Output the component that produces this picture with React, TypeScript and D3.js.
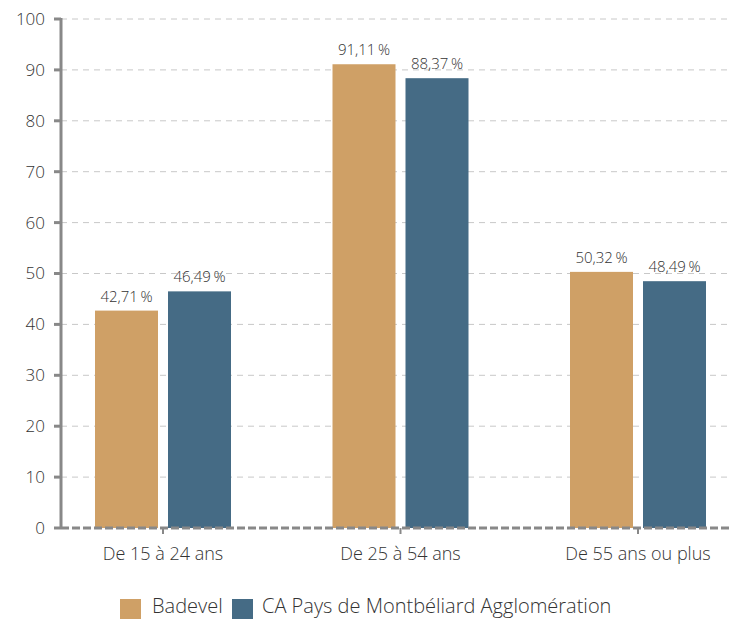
import React from "react";
import * as d3 from "d3";

const categories = ["De 15 à 24 ans", "De 25 à 54 ans", "De 55 ans ou plus"];
const seriesNames = ["Badevel", "CA Pays de Montbéliard Agglomération"];
const badevel = [42.71, 91.11, 50.32];
const caPays = [46.49, 88.37, 48.49];
const yTicks = [0, 10, 20, 30, 40, 50, 60, 70, 80, 90, 100];
const colors = ["#CFA066", "#456B85"];

const fmt = (v: number) => v.toFixed(2).replace(".", ",") + "\u2009%";

export default function App() {
  const W = 731, H = 619;
  const x0 = 61, x1 = 731, yTop = 19, yBot = 528;
  const y = d3.scaleLinear().domain([0, 100]).range([yBot, yTop]);
  const x = d3.scaleBand<string>().domain(categories).range([44.25, 756.75]);
  const barW = 63, gap = 10;
  const font = "'Open Sans', sans-serif";
  const fw = 300;
  const series = [badevel, caPays];
  return (
    <svg width={W} height={H} style={{ position: "absolute", left: 0, top: 0 }}>
      <rect width={W} height={H} fill="#fff" />
      {yTicks.map((t) => (
        <g key={t}>
          {t > 0 && (
            <line x1={x0} x2={x1} y1={y(t)} y2={y(t)} stroke="#c8c8c8" strokeDasharray="6,5" strokeWidth={1} />
          )}
          <line x1={54} x2={x0} y1={y(t)} y2={y(t)} stroke="#888" strokeWidth={3} />
          <text x={45} y={y(t)} dy="0.35em" textAnchor="end" fontFamily={font} fontWeight={fw} fontSize={17} fill="#333">
            {t}
          </text>
        </g>
      ))}
      {categories.map((c, i) => {
        const cx = x(c)! + x.bandwidth() / 2;
        return (
          <g key={c}>
            {series.map((s, j) => {
              const bx = cx - barW - gap / 2 + j * (barW + gap);
              return (
                <g key={j}>
                  <rect x={bx} y={y(s[i])} width={barW} height={yBot - y(s[i])} fill={colors[j]} />
                  <text x={bx + barW / 2} y={y(s[i]) - 9} textAnchor="middle" fontFamily={font} fontWeight={fw} fontSize={15} fill="#333">
                    {fmt(s[i])}
                  </text>
                </g>
              );
            })}
            <line x1={cx} x2={cx} y1={yBot} y2={yBot + 6} stroke="#888" strokeWidth={2} />
            <text x={cx} y={560} textAnchor="middle" fontFamily={font} fontWeight={fw} fontSize={18} fill="#333">
              {c}
            </text>
          </g>
        );
      })}
      <line x1={x0} x2={x1} y1={yBot} y2={yBot} stroke="#888" strokeWidth={3} strokeDasharray="8,3" />
      <line x1={x0} x2={x0} y1={yTop - 1} y2={yBot + 1} stroke="#888" strokeWidth={3} />
      <g>
        <rect x={120} y={599} width={21} height={20} fill={colors[0]} />
        <text x={152} y={613} fontFamily={font} fontWeight={fw} fontSize={20} fill="#333">{seriesNames[0]}</text>
        <rect x={232} y={599} width={21} height={20} fill={colors[1]} />
        <text x={262} y={613} fontFamily={font} fontWeight={fw} fontSize={20} fill="#333">{seriesNames[1]}</text>
      </g>
    </svg>
  );
}
